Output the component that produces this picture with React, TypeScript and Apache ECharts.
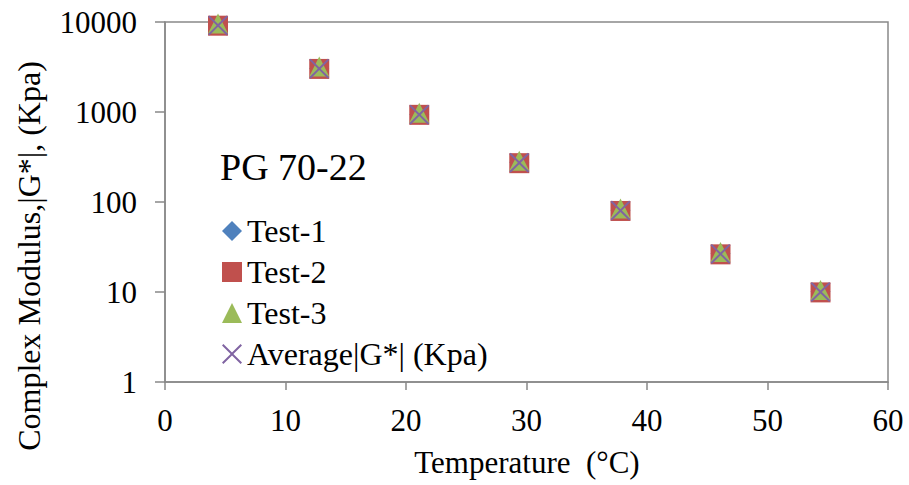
import React, { useEffect, useRef } from "react";
import * as echarts from "echarts";

const temperatures = [4.4, 12.8, 21.1, 29.4, 37.8, 46.1, 54.4];
const test1 = [9200, 3050, 940, 276, 81, 26.8, 10.1];
const test2 = [9100, 3010, 930, 270, 79.5, 26.2, 9.9];
const test3 = [9150, 3040, 935, 273, 80.5, 26.5, 10.0];
const average = [9150, 3033, 935, 273, 80.3, 26.5, 10.0];

const seriesNames = ["Test-1", "Test-2", "Test-3", "Average|G*| (Kpa)"];
const xTitle = "Temperature  (°C)";
const yTitle = "Complex Modulus,|G*|, (Kpa)";
const annotation = "PG 70-22";

const FONT = "Liberation Serif";
const AXIS_GRAY = "#898989";
const X_SYMBOL =
  "path://M0,1.4L1.4,0L10,8.6L18.6,0L20,1.4L11.4,10L20,18.6L18.6,20L10,11.4L1.4,20L0,18.6L8.6,10Z";

const pairs = (ys: number[]) => temperatures.map((t, i) => [t, ys[i]]);

export default function App() {
  const ref = useRef<HTMLDivElement>(null);
  useEffect(() => {
    if (!ref.current) return;
    const chart = echarts.init(ref.current, undefined, { renderer: "svg" });
    chart.setOption({
      animation: false,
      backgroundColor: "#ffffff",
      textStyle: { fontFamily: FONT },
      grid: {
        left: 165,
        right: 21,
        top: 22,
        bottom: 103,
        show: true,
        borderColor: AXIS_GRAY,
        borderWidth: 1.5,
        backgroundColor: "transparent",
      },
      xAxis: {
        type: "value",
        min: 0,
        max: 60,
        interval: 10,
        splitLine: { show: false },
        axisLine: { show: true, lineStyle: { color: AXIS_GRAY, width: 1.5 } },
        axisTick: { show: true, inside: false, length: 8, lineStyle: { color: AXIS_GRAY, width: 1.5 } },
        axisLabel: { color: "#000", fontFamily: FONT, fontSize: 31, margin: 23 },
      },
      yAxis: {
        type: "log",
        logBase: 10,
        min: 1,
        max: 10000,
        splitLine: { show: false },
        axisLine: { show: true, lineStyle: { color: AXIS_GRAY, width: 1.5 } },
        axisTick: { show: true, inside: false, length: 10, lineStyle: { color: AXIS_GRAY, width: 1.5 } },
        axisLabel: {
          color: "#000",
          fontFamily: FONT,
          fontSize: 31,
          margin: 28,
          formatter: (v: number) => String(Math.round(v)),
        },
      },
      legend: {
        orient: "vertical",
        left: 222,
        top: 215,
        padding: 0,
        itemGap: 9,
        itemWidth: 20,
        itemHeight: 20,
        selectedMode: false,
        data: seriesNames,
        itemStyle: { opacity: 1 },
        textStyle: { color: "#000", fontFamily: FONT, fontSize: 32, lineHeight: 32 },
      },
      graphic: [
        {
          type: "text",
          left: 220,
          top: 148,
          style: { text: annotation, fill: "#000", font: `38px ${FONT}` },
        },
        {
          type: "text",
          x: 29,
          y: 256,
          rotation: Math.PI / 2,
          style: {
            text: yTitle,
            fill: "#000",
            font: `32px ${FONT}`,
            align: "center",
            verticalAlign: "middle",
          },
        },
        {
          type: "text",
          x: 527,
          y: 462,
          style: {
            text: xTitle,
            fill: "#000",
            font: `31px ${FONT}`,
            align: "center",
            verticalAlign: "middle",
          },
        },
      ],
      series: [
        {
          name: seriesNames[0],
          type: "scatter",
          symbol: "diamond",
          symbolSize: 20,
          itemStyle: { color: "#4F81BD", opacity: 1 },
          data: pairs(test1),
        },
        {
          name: seriesNames[1],
          type: "scatter",
          symbol: "rect",
          symbolSize: 20,
          itemStyle: { color: "#C0504D", opacity: 1 },
          data: pairs(test2),
        },
        {
          name: seriesNames[2],
          type: "scatter",
          symbol: "triangle",
          symbolSize: 20,
          symbolOffset: [0, -2],
          itemStyle: { color: "#9BBB59", opacity: 1 },
          data: pairs(test3),
        },
        {
          name: seriesNames[3],
          type: "scatter",
          symbol: X_SYMBOL,
          symbolSize: 20,
          itemStyle: { color: "#8064A2", opacity: 1 },
          data: pairs(average),
        },
      ],
    });
    return () => chart.dispose();
  }, []);
  return (
    <div
      ref={ref}
      style={{ position: "absolute", left: 0, top: 0, width: 909, height: 485 }}
    />
  );
}
